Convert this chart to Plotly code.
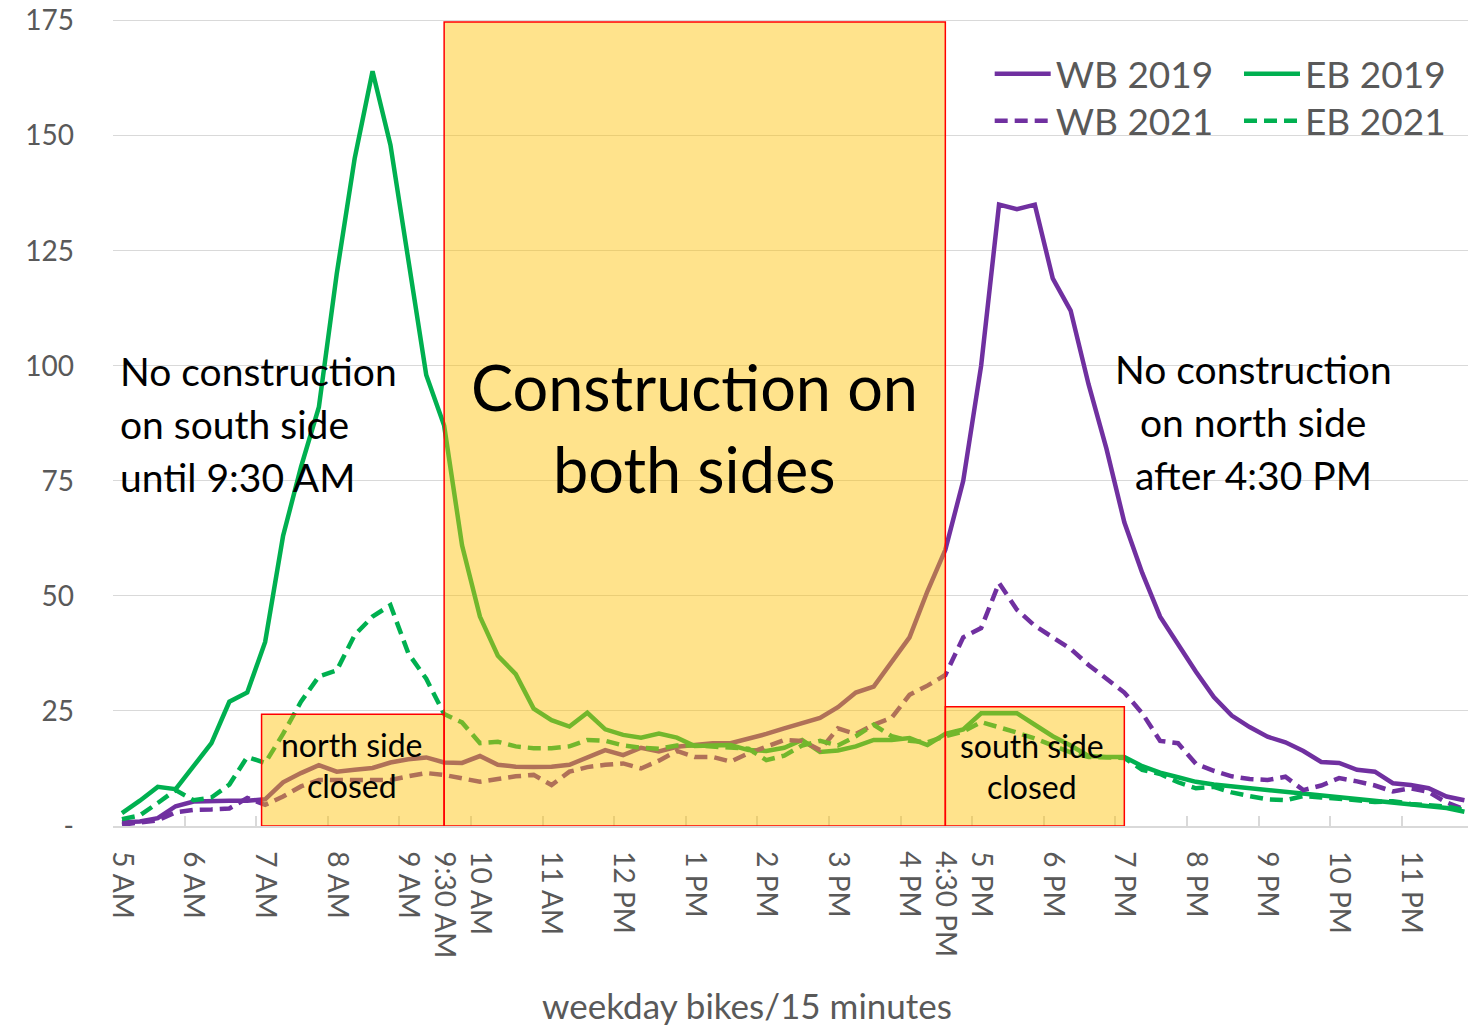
import plotly.graph_objects as go

# 15-minute intervals from 5:00 AM to 11:45 PM (hours as decimals)
times = [5 + 0.25 * i for i in range(76)]

wb_2019 = [0.8, 1.0, 1.7, 4.3, 5.3, 5.5, 5.5, 5.5, 5.8, 9.5,
           11.5, 13.2, 11.8, 12.2, 12.6, 13.8, 14.5, 14.9, 13.8, 13.7,
           15.2, 13.3, 12.9, 12.8, 12.9, 13.3, 15.0, 16.5, 15.4, 17.0,
           16.2, 17.2, 17.6, 18.0, 18.0, 18.9, 20.0, 21.2, 22.4, 23.5,
           25.8, 29.0, 30.3, 35.5, 41.0, 51.0, 60.0, 75.0, 100.0, 135.0,
           134.0, 135.0, 119.0, 112.0, 96.0, 82.0, 66.0, 55.0, 45.5, 39.5,
           33.5, 28.0, 24.0, 21.5, 19.4, 18.2, 16.3, 13.9, 13.7, 12.2,
           11.8, 9.3, 8.9, 8.2, 6.4, 5.6]

eb_2019 = [2.8, 5.5, 8.5, 8.0, 13.0, 18.0, 27.0, 29.0, 40.0, 63.0,
           78.0, 91.0, 120.0, 145.0, 164.0, 148.0, 123.0, 98.0, 87.0, 61.0,
           45.5, 37.0, 33.0, 25.5, 23.0, 21.6, 24.6, 21.0, 19.8, 19.2,
           20.1, 19.2, 17.4, 17.4, 17.6, 16.5, 16.3, 17.0, 18.7, 16.1,
           16.4, 17.3, 18.7, 18.7, 19.1, 17.6, 20.0, 21.0, 24.5, 24.5,
           24.5, 22.0, 19.5, 17.5, 15.2, 15.0, 15.0, 13.0, 11.6, 10.6,
           9.6, 9.0, 8.6, 8.2, 7.8, 7.4, 7.0, 6.7, 6.2, 5.8,
           5.4, 5.0, 4.5, 4.2, 3.9, 3.1]

wb_2021 = [0.3, 0.8, 1.2, 3.0, 3.5, 3.6, 3.8, 6.1, 4.6, 6.4,
           8.6, 10.0, 10.0, 10.2, 10.2, 10.0, 10.8, 11.5, 11.1, 10.4,
           9.6, 10.2, 10.8, 11.1, 8.9, 11.8, 12.8, 13.3, 13.6, 12.5,
           14.2, 16.3, 15.0, 15.0, 14.0, 15.8, 17.2, 18.7, 18.5, 16.5,
           21.2, 20.0, 22.0, 23.5, 28.5, 30.5, 32.8, 41.0, 43.0, 52.8,
           47.0, 43.5, 41.0, 38.5, 35.0, 32.0, 29.0, 24.5, 18.5, 18.0,
           13.5, 12.0, 10.8, 10.2, 10.0, 10.7, 7.8, 8.8, 10.4, 9.7,
           8.8, 7.5, 8.2, 7.4, 5.1, 3.6]

eb_2021 = [1.5, 2.3, 5.0, 7.8, 5.6, 6.2, 9.0, 15.0, 13.7, 20.0,
           27.0, 32.5, 33.8, 41.5, 45.5, 48.0, 37.5, 32.0, 24.3, 22.5,
           18.0, 18.3, 17.3, 16.9, 16.9, 17.3, 18.7, 18.5, 17.5, 17.0,
           16.8, 17.5, 17.5, 17.2, 17.0, 16.8, 14.3, 15.3, 17.5, 18.5,
           17.5, 19.5, 22.0, 19.5, 18.5, 18.2, 19.5, 20.5, 22.6, 21.5,
           20.3, 19.0, 17.5, 16.0, 15.0, 14.8, 14.8, 12.2, 11.3, 9.5,
           8.2, 8.5, 7.3, 6.5, 5.8, 5.6, 6.5, 6.2, 6.0, 5.6,
           5.2, 5.4, 4.8, 4.5, 4.2, 3.5]

tick_hours = [5, 6, 7, 8, 9, 9.5, 10, 11, 12, 13, 14, 15, 16, 16.5, 17, 18, 19, 20, 21, 22, 23]
tick_labels = ["5 AM", "6 AM", "7 AM", "8 AM", "9 AM", "9:30 AM", "10 AM", "11 AM", "12 PM",
               "1 PM", "2 PM", "3 PM", "4 PM", "4:30 PM", "5 PM", "6 PM", "7 PM", "8 PM",
               "9 PM", "10 PM", "11 PM"]
y_ticks = [0, 25, 50, 75, 100, 125, 150, 175]
y_labels = ["-", "25", "50", "75", "100", "125", "150", "175"]

PURPLE = "#7030A0"
GREEN = "#00B050"
GRAY = "#595959"
FONT = "Lato"
DASH = "13px,7px"

fig = go.Figure()
fig.add_trace(go.Scatter(x=times, y=wb_2019, name="WB 2019", mode="lines",
                         line=dict(color=PURPLE, width=4.5), legend="legend"))
fig.add_trace(go.Scatter(x=times, y=eb_2019, name="EB 2019", mode="lines",
                         line=dict(color=GREEN, width=4.5), legend="legend2"))
fig.add_trace(go.Scatter(x=times, y=wb_2021, name="WB 2021", mode="lines",
                         line=dict(color=PURPLE, width=4.5, dash=DASH), legend="legend3"))
fig.add_trace(go.Scatter(x=times, y=eb_2021, name="EB 2021", mode="lines",
                         line=dict(color=GREEN, width=4.5, dash=DASH), legend="legend4"))

# construction zones (translucent fill above the lines, red outline)
zones = [(6.95, 9.5, 24.3), (9.5, 16.5, 174.7), (16.5, 19.0, 25.9)]
shapes = []
for x0, x1, top in zones:
    shapes.append(dict(type="rect", xref="x", yref="y", x0=x0, x1=x1, y0=0, y1=top,
                       fillcolor="#FFC000", opacity=0.45, line=dict(width=0), layer="above"))
for x0, x1, top in zones:
    shapes.append(dict(type="rect", xref="x", yref="y", x0=x0, x1=x1, y0=0, y1=top,
                       fillcolor="rgba(0,0,0,0)", line=dict(color="#FF0000", width=1.5),
                       layer="above"))

texts = [
    ("No construction", 4.95, 98.9, "left", 39),
    ("on south side", 4.95, 87.4, "left", 39),
    ("until 9:30 AM", 4.95, 75.9, "left", 39),
    ("Construction on", 13.0, 95.4, "center", 63),
    ("both sides", 13.0, 77.6, "center", 63),
    ("No construction", 20.8, 99.3, "center", 39),
    ("on north side", 20.8, 87.8, "center", 39),
    ("after 4:30 PM", 20.8, 76.3, "center", 39),
    ("north side", 8.21, 17.8, "center", 32),
    ("closed", 8.21, 8.7, "center", 32),
    ("south side", 17.71, 17.6, "center", 32),
    ("closed", 17.71, 8.5, "center", 32),
]
annotations = []
for t, x, y, anchor, size in texts:
    annotations.append(dict(text=t, x=x, y=y, xref="x", yref="y", xanchor=anchor,
                            yanchor="middle", showarrow=False,
                            font=dict(family=FONT, size=size, color="black")))
annotations.append(dict(text="weekday bikes/15 minutes", x=0.468, y=-0.221, xref="paper",
                        yref="paper", xanchor="center", yanchor="middle", showarrow=False,
                        font=dict(family=FONT, size=35, color=GRAY)))

legend_common = dict(orientation="h", xanchor="left", yanchor="middle",
                     bgcolor="rgba(0,0,0,0)", font=dict(family=FONT, size=37, color=GRAY),
                     itemwidth=56)

fig.update_layout(
    width=1468, height=1026,
    margin=dict(l=113, r=0, t=16, b=200, autoexpand=False),
    paper_bgcolor="white", plot_bgcolor="white",
    font=dict(family=FONT, color=GRAY),
    shapes=shapes,
    annotations=annotations,
    legend=dict(x=0.647, y=0.928, **legend_common),
    legend2=dict(x=0.831, y=0.928, **legend_common),
    legend3=dict(x=0.647, y=0.870, **legend_common),
    legend4=dict(x=0.831, y=0.870, **legend_common),
    showlegend=True,
)
fig.update_xaxes(range=[4.875, 23.80], tickmode="array", tickvals=tick_hours,
                 ticktext=tick_labels, tickangle=90, ticks="", showgrid=False, automargin=False,
                 showline=True, linecolor="#D9D9D9", linewidth=1.5, zeroline=False,
                 ticklabeloverflow="allow",
                 tickfont=dict(family=FONT, size=28, color=GRAY), ticklabelstandoff=18,
                 minor=dict(ticks="inside", tickmode="array",
                            tickvals=[h - 0.125 for h in range(6, 24)],
                            ticklen=10, tickcolor="#D9D9D9", tickwidth=1.5, showgrid=False))
fig.update_yaxes(range=[0, 176], tickmode="array", tickvals=y_ticks, ticktext=y_labels,
                 showgrid=True, gridcolor="#D9D9D9", gridwidth=1.3, zeroline=False,
                 automargin=False, showline=False, ticks="", ticklabeloverflow="allow",
                 tickfont=dict(family=FONT, size=28, color=GRAY), ticklabelstandoff=38)

fig.write_html("out.html", config={"displayModeBar": False},
               post_script="document.body.style.margin='0';document.body.style.overflow='hidden';")
